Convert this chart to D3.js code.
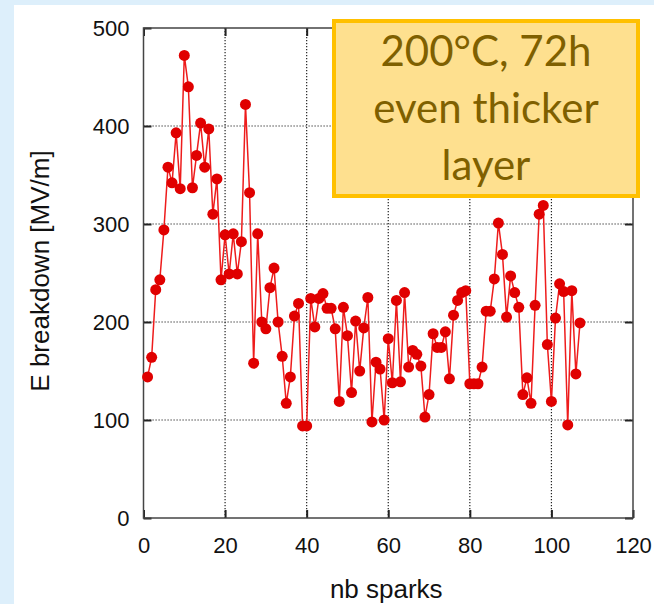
<!DOCTYPE html>
<html>
<head>
<meta charset="utf-8">
<script src="https://cdn.jsdelivr.net/npm/d3@7"></script>
<style>
    body { margin: 0; background: #ddeffb; }
    #chart-area { width: 654px; height: 604px; }
</style>
</head>
<body>
<div id="chart-area"></div>
<script>
// spark number and breakdown field (MV/m)
let sparks = [1, 2, 3, 4, 5, 6, 7, 8, 9, 10, 11, 12, 13, 14, 15, 16, 17, 18, 19, 20,
    21, 22, 23, 24, 25, 26, 27, 28, 29, 30, 31, 32, 33, 34, 35, 36, 37, 38, 39, 40,
    41, 42, 43, 44, 45, 46, 47, 48, 49, 50, 51, 52, 53, 54, 55, 56, 57, 58, 59, 60,
    61, 62, 63, 64, 65, 66, 67, 68, 69, 70, 71, 72, 73, 74, 75, 76, 77, 78, 79, 80,
    81, 82, 83, 84, 85, 86, 87, 88, 89, 90, 91, 92, 93, 94, 95, 96, 97, 98, 99, 100,
    101, 102, 103, 104, 105, 106, 107];
let breakdown = [144, 164, 233, 243, 294, 358, 342, 393, 336, 472, 440, 337, 370, 403, 358, 397, 310, 346, 243, 289,
    249, 290, 249, 282, 422, 332, 158, 290, 200, 193, 235, 255, 200, 165, 117, 144, 206, 219, 94, 94,
    224, 195, 224, 229, 214, 214, 193, 119, 215, 186, 128, 201, 150, 194, 225, 98, 159, 152, 100, 183,
    138, 222, 139, 230, 154, 171, 167, 155, 103, 126, 188, 174, 174, 190, 142, 207, 222, 230, 232, 137,
    137, 137, 154, 211, 211, 244, 301, 269, 205, 247, 230, 215, 126, 143, 117, 217, 310, 319, 177, 119,
    204, 239, 231, 95, 232, 147, 199];
let xTicks = [0, 20, 40, 60, 80, 100, 120];
let yTicks = [0, 100, 200, 300, 400, 500];
let noteLines = ["200°C, 72h", "even thicker", "layer"];

class LineVis {

    constructor(parentElement){
        this.parentElement = parentElement;
        this.data = sparks.map((s, i) => ({ n: s, e: breakdown[i] }));
        this.initVis();
    }

    initVis(){
        let vis = this;

        vis.margin = { top: 28, right: 21, bottom: 86, left: 143.5 };
        vis.width = 654 - vis.margin.left - vis.margin.right;
        vis.height = 604 - vis.margin.top - vis.margin.bottom;

        let root = d3.select("#" + vis.parentElement).append("svg")
            .attr("width", 654)
            .attr("height", 604);

        // white slide panel
        root.append("rect")
            .attr("x", 14).attr("y", 5)
            .attr("width", 640).attr("height", 599)
            .attr("fill", "#ffffff");

        vis.svg = root.append("g")
            .attr("transform", `translate(${vis.margin.left}, ${vis.margin.top})`);

        vis.x = d3.scaleLinear().domain([0, 120]).range([0, vis.width]);
        vis.y = d3.scaleLinear().domain([0, 500]).range([vis.height, 0]);

        // dotted grid
        vis.svg.append("g").selectAll("line")
            .data(xTicks.slice(1, -1))
            .enter().append("line")
            .attr("x1", d => vis.x(d)).attr("x2", d => vis.x(d))
            .attr("y1", 0).attr("y2", vis.height)
            .attr("stroke", "#222").attr("stroke-width", 1.2).attr("stroke-dasharray", "1.2,1.8");

        vis.svg.append("g").selectAll("line")
            .data(yTicks.slice(1, -1))
            .enter().append("line")
            .attr("y1", d => Math.round(vis.y(d))).attr("y2", d => Math.round(vis.y(d)))
            .attr("x1", 0).attr("x2", vis.width)
            .attr("stroke", "#222").attr("stroke-width", 1.2).attr("stroke-dasharray", "1.2,1.8");

        // axes with inner ticks on every side
        let axisFont = "'Liberation Sans', Arial, sans-serif";

        vis.svg.append("g")
            .attr("class", "x-axis")
            .attr("transform", "translate(0," + vis.height + ")")
            .call(d3.axisBottom(vis.x).tickValues(xTicks).tickSizeInner(-8).tickSizeOuter(0).tickPadding(19));

        vis.svg.append("g")
            .attr("class", "y-axis")
            .call(d3.axisLeft(vis.y).tickValues(yTicks).tickSizeInner(-8).tickSizeOuter(0).tickPadding(14));

        vis.svg.append("g")
            .call(d3.axisTop(vis.x).tickValues(xTicks).tickSizeInner(-8).tickSizeOuter(0).tickFormat(""));

        vis.svg.append("g")
            .attr("transform", "translate(" + vis.width + ",0)")
            .call(d3.axisRight(vis.y).tickValues(yTicks).tickSizeInner(-8).tickSizeOuter(0).tickFormat(""));

        vis.svg.selectAll(".domain").remove();
        vis.svg.selectAll(".tick line").attr("stroke", "#222").attr("stroke-width", 2);
        vis.svg.selectAll(".tick text")
            .attr("fill", "#111")
            .style("font-family", axisFont)
            .style("font-size", "22px");

        vis.svg.append("rect")
            .attr("width", vis.width).attr("height", vis.height)
            .attr("fill", "none")
            .attr("stroke", "#444").attr("stroke-width", 1.5);

        // axis titles
        vis.svg.append("text")
            .attr("x", vis.width / 2 - 2)
            .attr("y", vis.height + 80)
            .attr("text-anchor", "middle")
            .style("font-family", axisFont)
            .style("font-size", "26px")
            .attr("fill", "#111")
            .text("nb sparks");

        vis.svg.append("text")
            .attr("transform", `translate(-95, ${vis.height / 2 - 2}) rotate(-90)`)
            .attr("text-anchor", "middle")
            .style("font-family", axisFont)
            .style("font-size", "26px")
            .attr("fill", "#111")
            .text("E breakdown [MV/m]");

        vis.updateVis();
    }

    updateVis(){
        let vis = this;

        let line = d3.line()
            .x(d => vis.x(d.n))
            .y(d => vis.y(d.e));

        vis.svg.append("path")
            .datum(vis.data)
            .attr("d", line)
            .attr("fill", "none")
            .attr("stroke", "#ee1c1c")
            .attr("stroke-width", 1.5);

        vis.svg.selectAll(".dot")
            .data(vis.data)
            .enter().append("circle")
            .attr("class", "dot")
            .attr("cx", d => vis.x(d.n))
            .attr("cy", d => vis.y(d.e))
            .attr("r", 5.5)
            .attr("fill", "#e00000");

        // annotation box
        let note = d3.select("#" + vis.parentElement).select("svg").append("g");

        note.append("rect")
            .attr("x", 334).attr("y", 21)
            .attr("width", 304).attr("height", 175)
            .attr("fill", "#fee08f")
            .attr("stroke", "#ffc000").attr("stroke-width", 4);

        note.selectAll("text")
            .data(noteLines)
            .enter().append("text")
            .attr("x", 486)
            .attr("y", (d, i) => 66 + i * 57)
            .attr("text-anchor", "middle")
            .style("font-family", "Lato, 'Open Sans', sans-serif")
            .style("font-size", "42px")
            .attr("fill", "#7f6000")
            .text(d => d);
    }
}

let lineVis = new LineVis("chart-area");
</script>
</body>
</html>
